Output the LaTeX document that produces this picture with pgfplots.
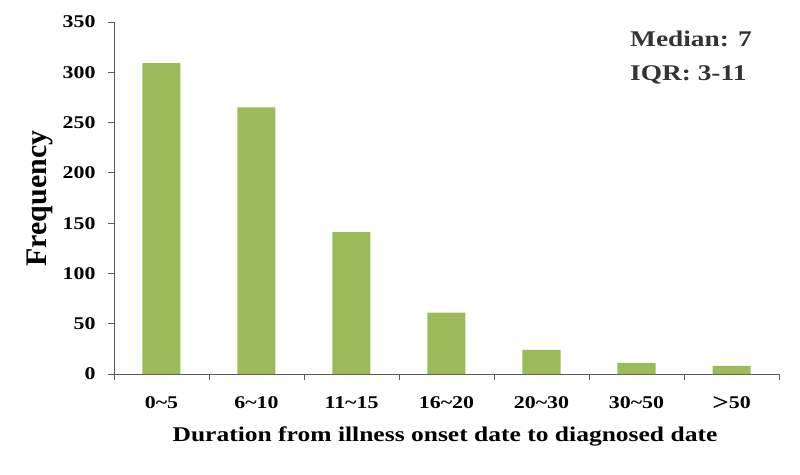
\documentclass[border=0pt]{standalone}
\usepackage{pgfplots}
\pgfplotsset{compat=1.18}
\usepackage{fontspec}
\setmainfont[FakeStretch=1.22]{Liberation Serif}
\newfontfamily\plainserif{Liberation Serif}
\definecolor{bargreen}{HTML}{9BBB59}
\definecolor{axisgray}{HTML}{595959}
\definecolor{txt}{HTML}{333333}
\begin{document}
\begin{tikzpicture}
\path[use as bounding box] (-114bp,-101bp) rectangle (686bp,374bp);
\begin{axis}[
  scale only axis,
  width=665bp, height=352bp,
  at={(0,0)}, anchor=south west,
  xmin=-0.5, xmax=6.5,
  ymin=0, ymax=350,
  axis x line*=bottom,
  axis y line*=left,
  axis line style={axisgray, line width=0.8pt},
  xtick={0,...,6},
  xticklabels={0\textasciitilde5,6\textasciitilde10,11\textasciitilde15,16\textasciitilde20,20\textasciitilde30,30\textasciitilde50,{\raisebox{-2bp}{\fontsize{24}{18}\selectfont >}50}},
  minor xtick={-0.5,0.5,...,6.5},
  major x tick style={draw=none},
  minor tick length=6bp,
  ytick={0,50,...,350},
  major tick length=6bp,
  tick style={axisgray, line width=0.8pt},
  tick align=outside,
  xticklabel style={font=\bfseries\fontsize{18}{18}\selectfont, yshift=-11bp, text depth=0pt, anchor=base, yshift=-17bp},
  yticklabel style={font=\bfseries\fontsize{18}{18}\selectfont, xshift=-9bp},
  /pgf/number format/assume math mode=true,
  clip=false,
]
\addplot[ybar, bar width=38bp, fill=bargreen, draw=none] coordinates {
  (0,309) (1,265) (2,141) (3,61) (4,24) (5,11) (6,8)
};
\end{axis}
\node[font=\bfseries\fontsize{21}{21}\selectfont] at (331bp,-62bp) {Duration from illness onset date to diagnosed date};
\node[font=\plainserif\bfseries\fontsize{30}{30}\selectfont, rotate=90] at (-74.5bp,175.5bp) {Frequency};
\node[font=\bfseries\fontsize{22.5}{22.5}\selectfont, text=txt, anchor=west, inner sep=0pt] at (516bp,335bp) {Median: 7};
\node[font=\bfseries\fontsize{22.5}{22.5}\selectfont, text=txt, anchor=west, inner sep=0pt] at (516bp,299bp) {IQR: 3-11};
\end{tikzpicture}
\end{document}
